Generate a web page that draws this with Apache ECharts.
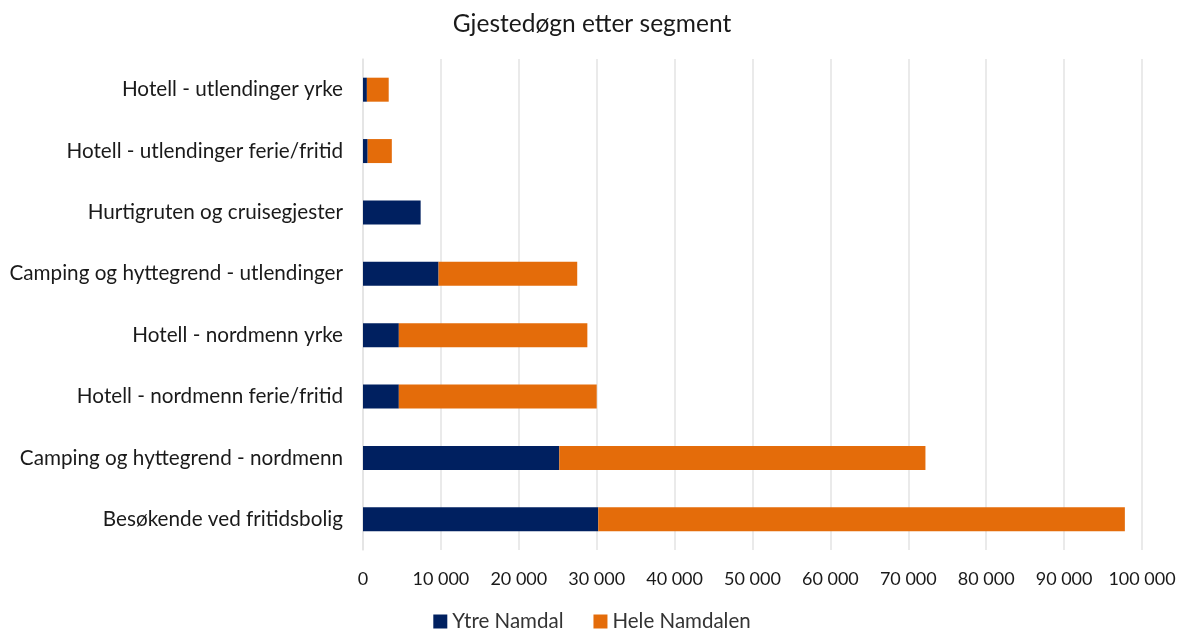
<!DOCTYPE html>
<html>
<head>
<meta charset="utf-8">
<script src="https://cdn.jsdelivr.net/npm/echarts@6/dist/echarts.min.js"></script>
<style>
  html, body { margin: 0; padding: 0; background: #fff; }
  #chart { width: 1184px; height: 630px; }
</style>
</head>
<body>
<div id="chart"></div>
<script>
// categories from bottom to top
const categories = [
  'Besøkende ved fritidsbolig',
  'Camping og hyttegrend - nordmenn',
  'Hotell - nordmenn ferie/fritid',
  'Hotell - nordmenn yrke',
  'Camping og hyttegrend - utlendinger',
  'Hurtigruten og cruisegjester',
  'Hotell - utlendinger ferie/fritid',
  'Hotell - utlendinger yrke'
]
const ytreNamdal = [30200, 25200, 4600, 4600, 9700, 7400, 600, 500]
const heleNamdalen = [67600, 47000, 25400, 24200, 17800, 0, 3100, 2800]
const seriesNames = ['Ytre Namdal', 'Hele Namdalen']

const font = 'Lato, "Open Sans", sans-serif'
const chart = echarts.init(document.getElementById('chart'))

const fmt = (v) => String(v).replace(/\B(?=(\d{3})+(?!\d))/g, ' ')

chart.setOption({
  animation: false,
  title: {
    text: 'Gjestedøgn etter segment',
    left: 'center',
    top: 7,
    textStyle: { fontFamily: font, fontSize: 24.5, fontWeight: 'normal', color: '#1a1a1a' }
  },
  legend: {
    data: seriesNames,
    bottom: -7,
    itemWidth: 14,
    itemHeight: 14,
    itemGap: 30,
    icon: 'rect',
    textStyle: { fontFamily: font, fontSize: 20.5, color: '#333' }
  },
  grid: {
    left: 363,
    right: 42,
    top: 59,
    bottom: 80
  },
  xAxis: {
    type: 'value',
    min: 0,
    max: 100000,
    interval: 10000,
    axisLine: { show: false },
    axisTick: { show: false },
    splitLine: { lineStyle: { color: '#e3e3e3', width: 1.5 } },
    axisLabel: {
      margin: 20,
      fontFamily: font,
      fontSize: 18,
      color: '#1a1a1a',
      formatter: fmt
    }
  },
  yAxis: {
    type: 'category',
    data: categories,
    axisLine: { show: true, lineStyle: { color: '#e3e3e3', width: 1.5 } },
    axisTick: { show: false },
    axisLabel: {
      margin: 20,
      fontFamily: font,
      fontSize: 20.7,
      color: '#1a1a1a'
    }
  },
  series: [
    {
      name: seriesNames[0],
      type: 'bar',
      stack: 'total',
      barWidth: 24,
      itemStyle: { color: '#002060' },
      data: ytreNamdal
    },
    {
      name: seriesNames[1],
      type: 'bar',
      stack: 'total',
      barWidth: 24,
      itemStyle: { color: '#e46c0a' },
      data: heleNamdalen
    }
  ]
})
</script>
</body>
</html>
